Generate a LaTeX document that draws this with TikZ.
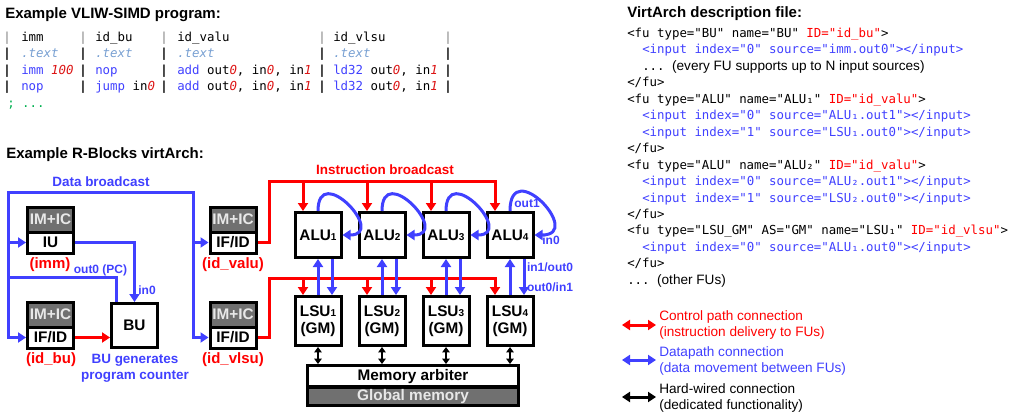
\documentclass[tikz,border=0pt]{standalone}
\usepackage{fontspec}
\setmainfont{Liberation Sans}
\setmonofont{DejaVu Sans Mono}
\usepackage{xcolor}
\usetikzlibrary{arrows.meta}

\definecolor{dblue}{RGB}{64,64,255}
\definecolor{cred}{RGB}{255,0,0}
\definecolor{imgray}{RGB}{112,112,112}
\definecolor{imtext}{RGB}{232,232,232}
\definecolor{txtblue}{RGB}{120,160,210}
\definecolor{numred}{RGB}{220,20,20}
\definecolor{cgreen}{RGB}{0,176,80}

\newcommand{\kw}[1]{\textcolor{dblue}{#1}}
\newcommand{\nm}[1]{\textcolor{numred}{\itshape #1}}
\newcommand{\lsub}[1]{{\fontsize{7.5}{8}\selectfont #1}}
\newcommand{\codefont}{\ttfamily\fontsize{9.3}{11}\selectfont}

\begin{document}
\begin{tikzpicture}[x=0.75pt,y=-0.75pt,
    >={Triangle[length=6pt,width=7.5pt]},
    box/.style={draw,line width=2.25pt,fill=white,inner sep=0pt,align=center,
      font=\bfseries\fontsize{11.5}{12.75}\selectfont},
    im/.style={box,fill=imgray,text=imtext,minimum width=34.5pt,minimum height=18.75pt},
    dec/.style={box,minimum width=34.5pt,minimum height=15.75pt},
    fu/.style={box,minimum width=34.5pt,minimum height=33.75pt},
    wb/.style={draw=dblue,line width=2.25pt},
    wr/.style={draw=cred,line width=2.25pt},
    hw/.style={draw=black,line width=1.5pt,
      {Triangle[length=4pt,width=5.5pt]}-{Triangle[length=4pt,width=5.5pt]}},
    head/.style={anchor=base west,inner sep=0pt,font=\bfseries\fontsize{11.25}{13}\selectfont},
    lbl/.style={inner sep=0pt,font=\bfseries\fontsize{10.1}{12}\selectfont},
    tag/.style={inner sep=0pt,text=cred,font=\bfseries\fontsize{11.25}{13}\selectfont},
    small/.style={inner sep=0pt,text=dblue,font=\bfseries\fontsize{9}{10}\selectfont},
    code/.style={anchor=base west,inner sep=0pt,font=\codefont},
    pipe/.style={anchor=base,inner sep=0pt,font=\codefont},
    note/.style={anchor=west,inner sep=0pt,align=left,font=\fontsize{10.2}{12.3}\selectfont}]
  \useasboundingbox (0,0) rectangle (1012,418);

  %% headings
  \node[head] (h1) at (5,18) {Example VLIW-SIMD program:};
  \node[head] (h2) at (6,158) {Example R-Blocks virtArch:};
  \node[head] (h3) at (627,17) {VirtArch description file:};

  %% VLIW-SIMD program
  \foreach \x [count=\i] in {7,83,164,322,448} {
    \node[pipe,text=gray] (p1\i) at (\x,41) {|};
    \foreach \y [count=\j from 2] in {57.5,74,90.5}
      \node[pipe,font=\codefont\bfseries] (p\j\i) at (\x,\y) {|};
  }
  \node[code] (c11) at (21,41) {imm};
  \node[code] (c12) at (95,41) {id\_bu};
  \node[code] (c13) at (177,41) {id\_valu};
  \node[code] (c14) at (333,41) {id\_vlsu};
  \foreach \x [count=\i] in {21,95,177,333}
    \node[code,text=txtblue,font=\codefont\itshape] (c2\i) at (\x,57.5) {.text};
  \node[code] (c31) at (21,74) {\kw{imm} \nm{100}};
  \node[code] (c32) at (95,74) {\kw{nop}};
  \node[code] (c33) at (177,74) {\kw{add} out\nm{0}, in\nm{0}, in\nm{1}};
  \node[code] (c34) at (333,74) {\kw{ld32} out\nm{0}, in\nm{1}};
  \node[code] (c41) at (21,90.5) {\kw{nop}};
  \node[code] (c42) at (95,90.5) {\kw{jump} in\nm{0}};
  \node[code] (c43) at (177,90.5) {\kw{add} out\nm{0}, in\nm{0}, in\nm{1}};
  \node[code] (c44) at (333,90.5) {\kw{ld32} out\nm{0}, in\nm{1}};
  \node[code,text=cgreen] (c51) at (7,107) {; ...};

  %% control blocks
  \node[im] (iuim) at (50.5,219.5) {IM+IC};
  \node[dec] (iu) at (50.5,242.5) {IU};
  \node[im] (ibuim) at (50.5,314.5) {IM+IC};
  \node[dec] (ibu) at (50.5,337.5) {IF/ID};
  \node[im] (ivalim) at (233,219.5) {IM+IC};
  \node[dec] (ival) at (233,242.5) {IF/ID};
  \node[im] (ivlsim) at (233,314.5) {IM+IC};
  \node[dec] (ivls) at (233,337.5) {IF/ID};
  \node[box,minimum width=34.5pt,minimum height=33pt] (bu) at (134.5,325.5) {BU};

  \node[tag] (timm) at (50,265) {(imm)};
  \node[tag] (tbu) at (51,360) {(id\_bu)};
  \node[tag] (tval) at (233,265) {(id\_valu)};
  \node[tag] (tvls) at (233,360) {(id\_vlsu)};

  %% functional units
  \foreach \x [count=\i] in {318,382,446,510} {
    \node[fu] (a\i) at (\x,235) {ALU\lsub{\i}};
    \node[fu,minimum height=36.75pt] (l\i) at (\x,321) {LSU\lsub{\i}\\(GM)};
  }
  \node[box,minimum width=158.25pt,minimum height=16.1pt] (arb) at (413,376.25) {Memory arbiter};
  \node[box,fill=imgray,text=imtext,minimum width=158.25pt,minimum height=13.9pt] (gm) at (413,396.5) {Global memory};

  %% data broadcast
  \coordinate (tl) at (8,192);
  \coordinate (tr) at (193,192);
  \coordinate (pc) at (8,277);
  \draw[wb,<->] (ibu.west) -| (tl) -- (tr) |- (ivls.west);
  \draw[wb,->] (tl) |- (iu.west);
  \draw[wb,->] (tr) |- (ival.west);
  \draw[wb] ([xshift=4.5pt]bu.north west) |- (pc);
  \draw[wb,->] (iu.east) -| (bu.north);
  \draw[wr,->] (ibu.east) -- (ibu.east -| bu.west);
  \node[lbl,text=dblue] (tdb) at (101,182) {Data broadcast};
  \node[small] (tpc) at (100.5,270) {out0 (PC)};
  \node[small] (tin) at (147,290) {in0};
  \node[lbl,text=dblue,align=center,font=\bfseries\fontsize{10.1}{12}\selectfont] (tgen) at (135,368) {BU generates\\program counter};

  %% instruction broadcast
  \coordinate (ib) at (269,181);
  \coordinate (il) at (269,278);
  \foreach \i in {1,...,4} {
    \coordinate (ra\i) at ([xshift=-11.25pt]a\i.north);
    \coordinate (rl\i) at ([xshift=-11.25pt]l\i.north);
  }
  \draw[wr,->] (ival.east) -| (ib) -| (ra4);
  \draw[wr,->] (ivls.east) -| (il) -| (rl4);
  \foreach \i in {1,2,3} {
    \draw[wr,->] (ra\i |- ib) -- (ra\i);
    \draw[wr,->] (rl\i |- il) -- (rl\i);
  }
  \node[lbl,text=cred] (tib) at (385,170) {Instruction broadcast};

  %% datapath between units
  \foreach \i in {1,2,3}
    \draw[wb,->] (a\i.north) .. controls +(0,-50) and +(45,0) .. (a\i.east);
  \draw[wb,->] (a4.north) .. controls +(0,-56) and +(50,0) .. (a4.east);
  \foreach \i in {1,...,4} {
    \draw[wb,->] (l\i.north) -- (a\i.south);
    \draw[wb,->] ([xshift=10.5pt]a\i.south) -- ([xshift=10.5pt]l\i.north);
    \draw[hw] (l\i.south) -- (l\i.south |- arb.north);
  }
  \node[small] (tout) at (527,203) {out1};
  \node[small] (tin4) at (551,240) {in0};
  \node[small] (tio1) at (550,267) {in1/out0};
  \node[small] (tio2) at (550,287) {out0/in1};

  %% description file
  \begin{scope}[every node/.style={code}]
    \node (x0) at (627,37.5) {<fu type="BU" name="BU" \textcolor{cred}{ID="id\_bu"}>};
    \node[text=dblue] (x1) at (642,53.95) {<input index="0" source="imm.out0"></input>};
    \node (x2) at (642,70.4) {... {\rmfamily\fontsize{10.2}{12}\selectfont(every FU supports up to N input sources)}};
    \node (x3) at (627,86.85) {</fu>};
    \node (x4) at (627,103.3) {<fu type="ALU" name="ALU₁" \textcolor{cred}{ID="id\_valu"}>};
    \node[text=dblue] (x5) at (642,119.75) {<input index="0" source="ALU₁.out1"></input>};
    \node[text=dblue] (x6) at (642,136.2) {<input index="1" source="LSU₁.out0"></input>};
    \node (x7) at (627,152.65) {</fu>};
    \node (x8) at (627,169.1) {<fu type="ALU" name="ALU₂" \textcolor{cred}{ID="id\_valu"}>};
    \node[text=dblue] (x9) at (642,185.55) {<input index="0" source="ALU₂.out1"></input>};
    \node[text=dblue] (x10) at (642,202) {<input index="1" source="LSU₂.out0"></input>};
    \node (x11) at (627,218.45) {</fu>};
    \node (x12) at (627,234.9) {<fu type="LSU\_GM" AS="GM" name="LSU₁" \textcolor{cred}{ID="id\_vlsu"}>};
    \node[text=dblue] (x13) at (642,251.35) {<input index="0" source="ALU₁.out0"></input>};
    \node (x14) at (627,267.8) {</fu>};
    \node (x15) at (627,284.25) {... {\rmfamily\fontsize{10.2}{12}\selectfont(other FUs)}};
  \end{scope}

  %% legend
  \coordinate (g1a) at (622,325); \coordinate (g1b) at (656,325);
  \coordinate (g2a) at (622,360); \coordinate (g2b) at (656,360);
  \coordinate (g3a) at (622,397); \coordinate (g3b) at (656,397);
  \draw[wr,<->] (g1a) -- (g1b);
  \draw[wb,<->] (g2a) -- (g2b);
  \draw[line width=2.25pt,<->] (g3a) -- (g3b);
  \node[note,text=cred] (n1) at (659,325) {Control path connection\\(instruction delivery to FUs)};
  \node[note,text=dblue] (n2) at (659,361) {Datapath connection\\(data movement between FUs)};
  \node[note] (n3) at (659,398) {Hard-wired connection\\(dedicated functionality)};
\end{tikzpicture}
\end{document}
